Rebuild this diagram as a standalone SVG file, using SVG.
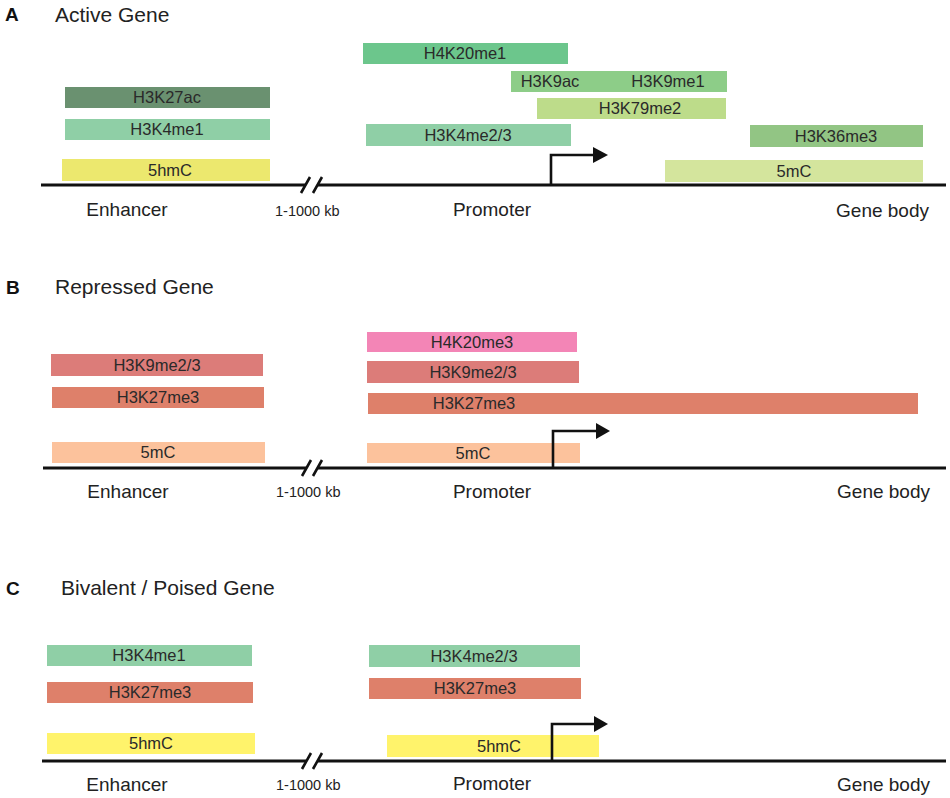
<svg xmlns="http://www.w3.org/2000/svg" width="950" height="798" viewBox="0 0 950 798">
<style>
text{font-family:"Liberation Sans",Arial,sans-serif;fill:#222}
.lbl{font-size:16.5px;text-anchor:middle;fill:#2a2a2a}
.reg{font-size:19px}
.kb{font-size:14.5px}
.ttl{font-size:21px}
.pl{font-size:19px;font-weight:bold;fill:#111}
.dna{stroke:#111;stroke-width:3;fill:none}
.brk{stroke:#111;stroke-width:2.6;fill:none}
.tss{stroke:#111;stroke-width:2.6;fill:none}
.head{fill:#111}
</style>
<rect width="950" height="798" fill="#fff"/>

<!-- Panel A -->
<g id="panelA-title"><text class="pl" x="5" y="21">A</text><text class="ttl" x="55" y="22">Active Gene</text></g>
<g id="A-H3K27ac"><rect x="65" y="87" width="205" height="21" fill="#6a9170"/><text class="lbl" x="167" y="103">H3K27ac</text></g>
<g id="A-H3K4me1"><rect x="65" y="119" width="205" height="21" fill="#8fcfa6"/><text class="lbl" x="167" y="135">H3K4me1</text></g>
<g id="A-5hmC"><rect x="62" y="159" width="208" height="22" fill="#ece86e"/><text class="lbl" x="170" y="176">5hmC</text></g>
<g id="A-H4K20me1"><rect x="363" y="43" width="205" height="21" fill="#6cc68c"/><text class="lbl" x="465" y="59">H4K20me1</text></g>
<g id="A-H3K9"><rect x="511" y="71" width="216" height="21" fill="#8dcd88"/><text class="lbl" x="550" y="87">H3K9ac</text><text class="lbl" x="668" y="87">H3K9me1</text></g>
<g id="A-H3K79me2"><rect x="537" y="98" width="189" height="21" fill="#bddc8a"/><text class="lbl" x="640" y="114">H3K79me2</text></g>
<g id="A-H3K4me23"><rect x="366" y="124" width="205" height="22" fill="#8fcfa6"/><text class="lbl" x="468" y="141">H3K4me2/3</text></g>
<g id="A-H3K36me3"><rect x="750" y="125" width="173" height="22" fill="#92c584"/><text class="lbl" x="836" y="142">H3K36me3</text></g>
<g id="A-5mC"><rect x="665" y="160" width="258" height="22" fill="#d4e59d"/><text class="lbl" x="794" y="177">5mC</text></g>
<g id="A-labels">
<text class="reg" x="127" y="216" text-anchor="middle">Enhancer</text>
<text class="kb" x="275" y="216">1-1000 kb</text>
<text class="reg" x="492" y="216" text-anchor="middle">Promoter</text>
<text class="reg" x="929" y="217" text-anchor="end">Gene body</text>
</g>

<!-- Panel B -->
<g id="panelB-title"><text class="pl" x="6" y="294">B</text><text class="ttl" x="55" y="294">Repressed Gene</text></g>
<g id="B-H3K9me23-enh"><rect x="51" y="354" width="212" height="22" fill="#dc7c79"/><text class="lbl" x="157" y="371">H3K9me2/3</text></g>
<g id="B-H3K27me3-enh"><rect x="52" y="387" width="212" height="21" fill="#de806a"/><text class="lbl" x="158" y="403">H3K27me3</text></g>
<g id="B-5mC-enh"><rect x="52" y="442" width="213" height="21" fill="#fcc29c"/><text class="lbl" x="158" y="458">5mC</text></g>
<g id="B-H4K20me3"><rect x="367" y="332" width="210" height="20" fill="#f385b6"/><text class="lbl" x="472" y="348">H4K20me3</text></g>
<g id="B-H3K9me23-pro"><rect x="367" y="361" width="212" height="22" fill="#dc7c79"/><text class="lbl" x="473" y="378">H3K9me2/3</text></g>
<g id="B-H3K27me3-pro"><rect x="368" y="393" width="550" height="21" fill="#de806a"/><text class="lbl" x="474" y="409">H3K27me3</text></g>
<g id="B-5mC-pro"><rect x="367" y="443" width="213" height="20" fill="#fcc29c"/><text class="lbl" x="473" y="459">5mC</text></g>
<g id="B-labels">
<text class="reg" x="128" y="498" text-anchor="middle">Enhancer</text>
<text class="kb" x="276" y="497">1-1000 kb</text>
<text class="reg" x="492" y="498" text-anchor="middle">Promoter</text>
<text class="reg" x="930" y="498" text-anchor="end">Gene body</text>
</g>

<!-- Panel C -->
<g id="panelC-title"><text class="pl" x="6" y="595">C</text><text class="ttl" x="61" y="595">Bivalent / Poised Gene</text></g>
<g id="C-H3K4me1"><rect x="47" y="645" width="205" height="21" fill="#8fcfa6"/><text class="lbl" x="149" y="661">H3K4me1</text></g>
<g id="C-H3K27me3-enh"><rect x="47" y="682" width="206" height="21" fill="#de806a"/><text class="lbl" x="150" y="698">H3K27me3</text></g>
<g id="C-5hmC-enh"><rect x="47" y="733" width="208" height="21" fill="#fff36b"/><text class="lbl" x="151" y="749">5hmC</text></g>
<g id="C-H3K4me23"><rect x="369" y="645" width="211" height="22" fill="#8fcfa6"/><text class="lbl" x="474" y="662">H3K4me2/3</text></g>
<g id="C-H3K27me3-pro"><rect x="369" y="678" width="212" height="21" fill="#de806a"/><text class="lbl" x="475" y="694">H3K27me3</text></g>
<g id="C-5hmC-pro"><rect x="387" y="735" width="212" height="22" fill="#fff36b"/><text class="lbl" x="499" y="752">5hmC</text></g>
<g id="C-labels">
<text class="reg" x="127" y="791" text-anchor="middle">Enhancer</text>
<text class="kb" x="276" y="790">1-1000 kb</text>
<text class="reg" x="492" y="790" text-anchor="middle">Promoter</text>
<text class="reg" x="930" y="791" text-anchor="end">Gene body</text>
</g>

<!-- Connectors: DNA lines, breaks, TSS arrows -->
<g id="connectors">
<path class="dna" d="M41 185H306M318 185H946"/>
<path class="brk" d="M301 193L310 177M313 193L322 177"/>
<path class="tss" d="M551 185V155H595"/>
<path class="head" d="M593 147L608 155L593 163Z"/>

<path class="dna" d="M43 468H306M318 468H946"/>
<path class="brk" d="M302 476L311 460M313 476L322 460"/>
<path class="tss" d="M553 468V431H597"/>
<path class="head" d="M596 423L610 431L596 439Z"/>

<path class="dna" d="M42 761H306M318 761H946"/>
<path class="brk" d="M302 769L311 753M313 769L322 753"/>
<path class="tss" d="M552 761V724H595"/>
<path class="head" d="M594 716L608 724L594 732Z"/>
</g>
</svg>
